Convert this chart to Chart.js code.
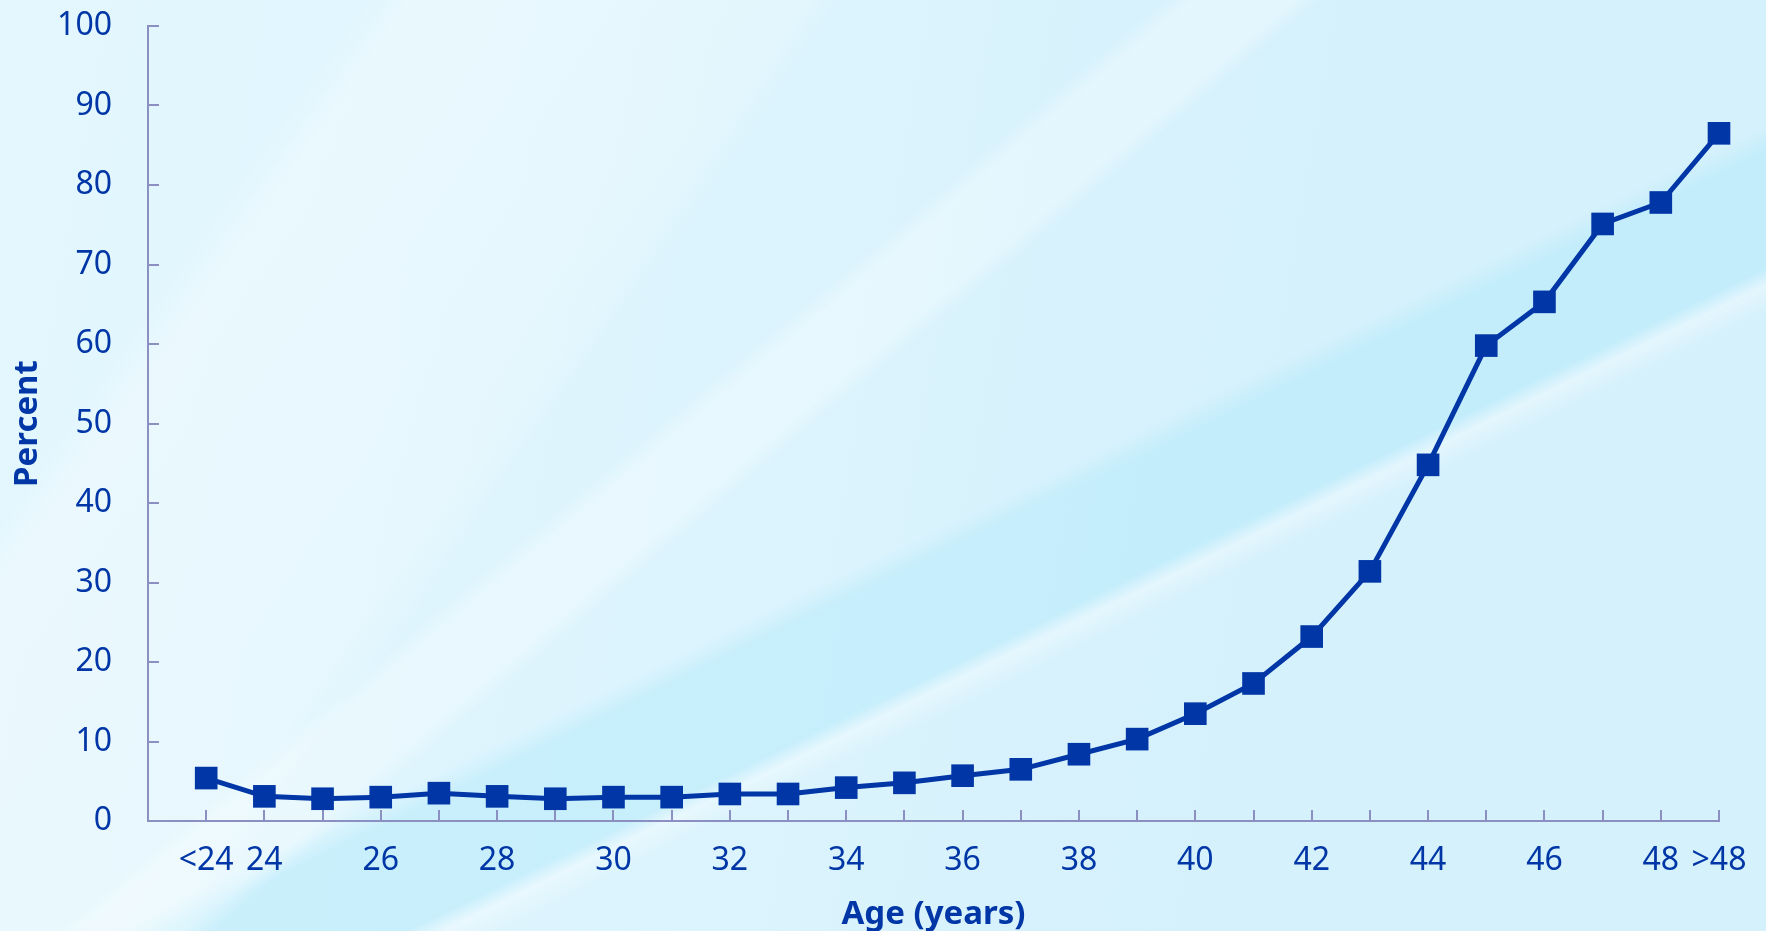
<!DOCTYPE html>
<html>
<head>
<meta charset="utf-8">
<script src="https://cdn.jsdelivr.net/npm/chart.js@4"></script>
<style>
  html, body { margin: 0; padding: 0; overflow: hidden; }
  #wrap {
    width: 1766px; height: 931px; position: relative;
    background:
      linear-gradient(125deg, rgba(255,255,255,0) 15%, rgba(255,255,255,0.3) 17%, rgba(255,255,255,0.22) 33%, rgba(255,255,255,0) 35%),
      linear-gradient(140deg, rgba(255,255,255,0) 40.5%, rgba(255,255,255,0.32) 41.5%, rgba(255,255,255,0.32) 45%, rgba(255,255,255,0) 46%),
      linear-gradient(154deg, rgba(255,255,255,0) 55%, rgba(175,232,250,0.45) 56.5%, rgba(175,232,250,0.45) 63%, rgba(255,255,255,0.35) 64%, rgba(255,255,255,0) 65.5%),
      linear-gradient(100deg, #e4f7fe 0%, #dcf4fd 40%, #d5f1fc 70%, #d5f1fc 100%);
  }
  canvas { display: block; }
</style>
</head>
<body>
<div id="wrap"><canvas id="chart" width="1766" height="931"></canvas></div>
<script>
// age groups along the x axis
const categories = ['<24', '24', '25', '26', '27', '28', '29', '30', '31', '32', '33', '34', '35', '36',
    '37', '38', '39', '40', '41', '42', '43', '44', '45', '46', '47', '48', '>48'];
// only some of them get a label under the tick
const tickLabels = ['<24', '24', '', '26', '', '28', '', '30', '', '32', '', '34', '', '36',
    '', '38', '', '40', '', '42', '', '44', '', '46', '', '48', '>48'];
const percent = [5.4, 3.1, 2.8, 3.0, 3.5, 3.1, 2.8, 3.0, 3.0, 3.4, 3.4, 4.2, 4.8, 5.7,
    6.5, 8.4, 10.3, 13.5, 17.3, 23.2, 31.4, 44.8, 59.8, 65.3, 75.1, 77.8, 86.5];
const yMin = 0, yMax = 100, yStep = 10;

const blue = '#0036a6';
const axisColor = '#8b8fc2';

let ctx = document.getElementById("chart");

// fixed scale sizes, no extra padding for the labels
function fixX(scale) {
    scale.height = 110;
    scale.paddingLeft = 0;
    scale.paddingRight = 0;
}
function fixY(scale) {
    scale.width = 148;
    scale.paddingTop = 0;
    scale.paddingBottom = 0;
}

let myChart = new Chart(ctx, {
    type: "line",
    data: {
        datasets: [{
            label: "Percent",
            data: percent.map((v, i) => ({x: i, y: v})),
            borderColor: blue,
            backgroundColor: blue,
            borderWidth: 5,
            pointStyle: 'rect',
            pointRadius: 16,
            pointBorderWidth: 0,
            pointBackgroundColor: blue,
            tension: 0,
            clip: false
        }]
    },
    options: {
        responsive: false,
        animation: false,
        devicePixelRatio: 1,
        layout: { padding: { top: 26, right: 47, left: 0, bottom: 0 } },
        plugins: {
            legend: { display: false },
            tooltip: { enabled: false }
        },
        scales: {
            x: {
                type: 'linear',
                min: -1,
                max: categories.length - 1,
                afterFit: fixX,
                border: { display: true, color: axisColor, width: 2 },
                grid: { drawOnChartArea: false, drawTicks: true, tickLength: -11, color: axisColor, lineWidth: 2 },
                ticks: {
                    stepSize: 1,
                    autoSkip: false,
                    maxRotation: 0,
                    padding: 32,
                    color: blue,
                    font: { family: 'Noto Sans', size: 32 },
                    callback: (v) => (v >= 0 ? tickLabels[v] : '')
                },
                title: {
                    display: true,
                    text: 'Age (years)',
                    color: blue,
                    font: { family: 'Noto Sans', size: 33, weight: 'bold' },
                    padding: { top: 0, bottom: -3 }
                }
            },
            y: {
                min: yMin,
                max: yMax,
                afterFit: fixY,
                border: { display: true, color: axisColor, width: 2 },
                grid: { drawOnChartArea: false, drawTicks: true, tickLength: -11, color: axisColor, lineWidth: 2 },
                ticks: {
                    stepSize: yStep,
                    padding: 47,
                    color: blue,
                    font: { family: 'Noto Sans', size: 32 }
                },
                title: {
                    display: true,
                    text: 'Percent',
                    color: blue,
                    font: { family: 'Noto Sans', size: 33, weight: 'bold' },
                    padding: { top: 8, bottom: 0 }
                }
            }
        }
    }
});
</script>
</body>
</html>
